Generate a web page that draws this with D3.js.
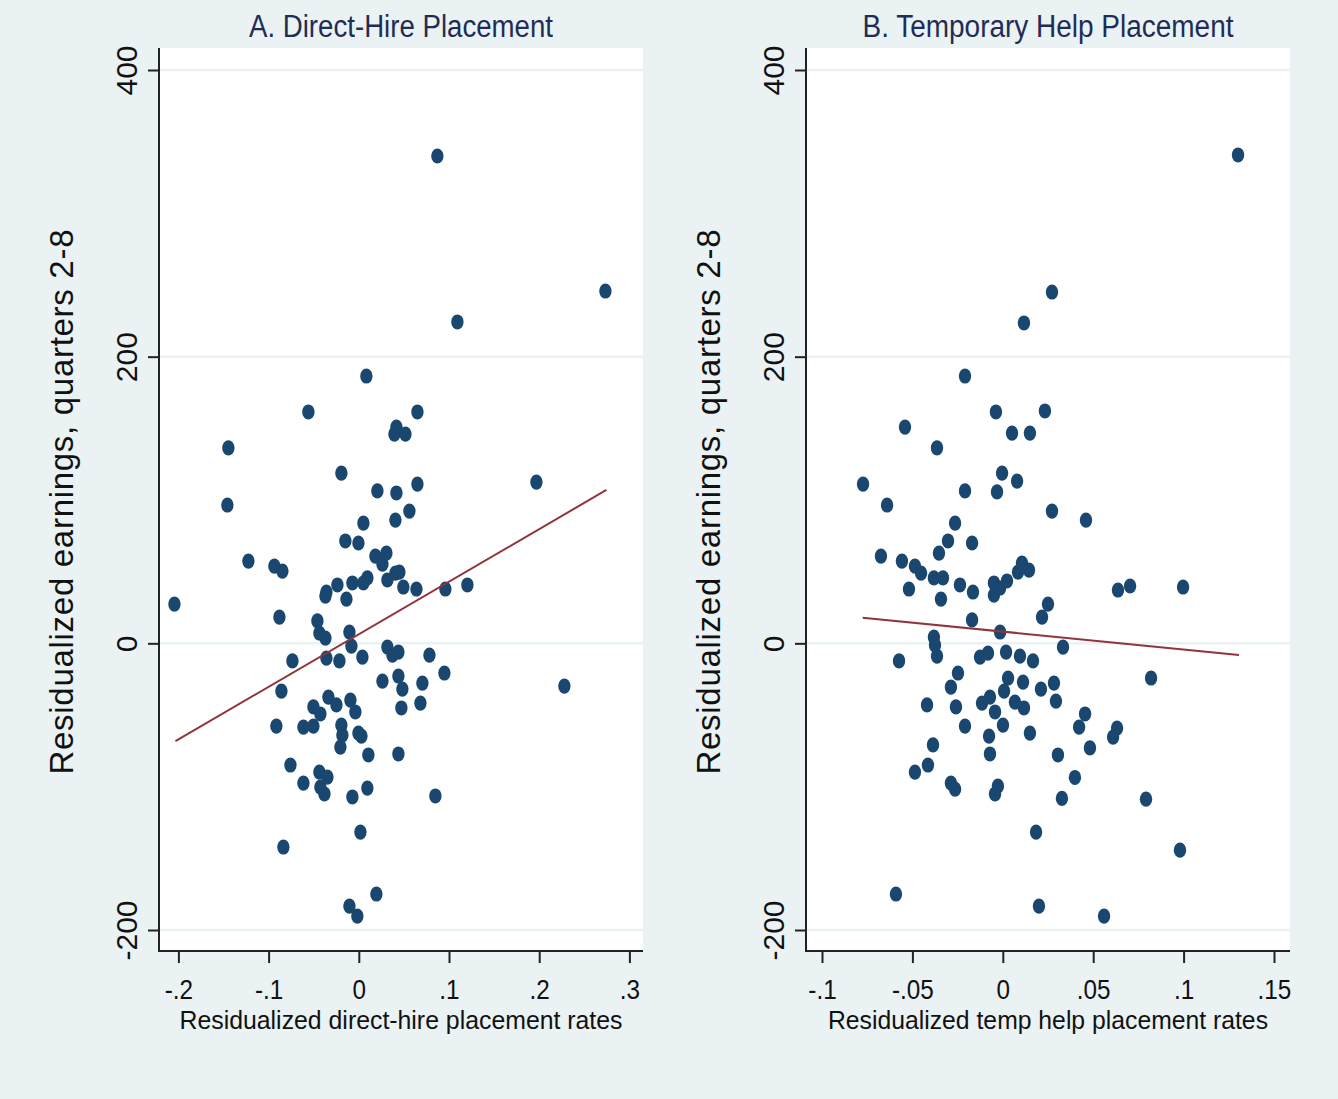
<!DOCTYPE html>
<html>
<head>
<meta charset="utf-8">
<script src="https://cdn.jsdelivr.net/npm/d3@7/dist/d3.min.js"></script>
<style>
  html, body { margin: 0; padding: 0; background: #eaf2f3; }
  svg { display: block; }
  text { font-family: "Liberation Sans", Arial, sans-serif; }
</style>
</head>
<body>
<div id="chart"></div>
<script>
// residualized earnings (y) vs residualized placement rates (x), one pair per point
var directHire = [
  [-0.0559,161.4],[0.0650,161.4],[0.0417,150.9],[0.0395,146.0],[0.0517,146.0],[-0.0193,118.8],
  [0.0084,186.5],[0.0206,106.3],[0.0417,104.9],[0.0650,111.1],[0.0561,92.3],[0.0406,86.0],
  [0.0051,83.9],[-0.0149,71.4],[-0.0004,70.0],[0.0184,60.9],[0.0306,63.0],[0.0262,55.3],
  [-0.1224,57.4],[-0.0936,53.9],[-0.0847,50.4],[0.0317,44.2],[0.0406,49.0],[0.0450,49.7],
  [0.0095,45.6],[0.0051,42.1],[-0.0071,42.1],[-0.0237,40.7],[-0.0359,35.8],[-0.0370,33.0],
  [-0.0137,30.9],[0.0494,39.3],[0.0639,37.9],[0.0960,37.9],[0.1204,40.7],[-0.0880,18.3],
  [-0.0459,15.6],[-0.0437,7.2],[-0.0370,3.7],[-0.0104,7.9],[-0.0082,-1.9],[0.0317,-2.6],
  [0.0439,-6.1],[0.0373,-8.2],[0.0783,-8.2],[-0.0736,-12.3],[-0.0359,-10.3],[-0.0215,-12.3],
  [0.0040,-9.6],[0.0949,-20.7],[0.0262,-26.3],[0.0439,-22.8],[0.0483,-31.9],[0.0705,-27.7],
  [0.0683,-41.7],[0.0472,-45.1],[-0.0858,-33.3],[-0.0337,-37.5],[-0.0248,-43.0],[-0.0093,-39.6],
  [-0.0038,-47.9],[-0.0503,-44.4],[-0.0426,-49.3],[-0.0914,-57.7],[-0.0614,-58.4],[-0.0503,-57.7],
  [-0.0193,-57.0],[-0.0182,-64.0],[-0.0204,-72.4],[-0.0004,-62.6],[0.0029,-64.7],[0.0106,-77.9],
  [0.0439,-77.2],[-0.0758,-84.9],[-0.0437,-89.8],[-0.0348,-93.3],[-0.0426,-100.3],[-0.0381,-105.1],
  [-0.0614,-97.5],[-0.0071,-107.2],[0.0095,-101.0],[0.0849,-106.5],[0.0018,-131.7],[-0.0836,-142.1],
  [0.0195,-174.9],[-0.0104,-183.3],[-0.0016,-190.3],[-0.1446,136.3],[-0.1457,96.5],[-0.2044,27.4],
  [0.0871,340.0],[0.2734,245.8],[0.1093,224.2],[0.1969,112.5],[0.2279,-29.8]
];

var tempHelp = [
  [-0.0209,186.5],[-0.0038,161.4],[0.0233,162.1],[0.0051,146.7],[0.0150,146.7],[-0.0541,150.9],
  [-0.0364,136.3],[-0.0773,111.1],[-0.0640,96.5],[-0.0209,106.3],[-0.0032,105.6],[-0.0004,118.8],
  [0.0079,113.2],[0.0272,92.3],[0.0460,86.0],[-0.0264,83.9],[-0.0303,71.4],[-0.0170,70.0],
  [-0.0353,63.0],[-0.0674,60.9],[-0.0558,57.4],[-0.0486,53.9],[-0.0452,49.0],[-0.0381,45.6],
  [-0.0331,45.6],[-0.0519,37.9],[-0.0342,30.9],[-0.0237,40.7],[-0.0165,35.8],[-0.0049,42.1],
  [-0.0049,33.7],[-0.0015,38.6],[0.0023,43.5],[0.0106,56.0],[0.0084,49.7],[0.0145,51.1],
  [0.0250,27.4],[0.0217,18.3],[-0.0170,16.3],[-0.0015,7.9],[-0.0381,4.4],[0.1301,340.7],
  [0.0272,245.1],[0.0117,223.5],[0.0637,37.2],[0.0704,40.0],[0.0997,39.3],[0.0820,-24.2],
  [0.0632,-59.1],[0.0610,-65.4],[0.0792,-108.7],[0.0980,-144.3],[-0.0375,-1.2],[-0.0364,-8.9],
  [-0.0574,-12.3],[-0.0126,-9.6],[-0.0082,-6.8],[0.0018,-6.1],[0.0095,-8.9],[0.0167,-12.3],
  [0.0333,-2.6],[-0.0248,-20.7],[-0.0287,-30.5],[0.0029,-24.2],[0.0112,-27.0],[0.0007,-33.3],
  [-0.0071,-37.5],[-0.0115,-41.7],[0.0067,-41.0],[0.0117,-45.1],[0.0211,-31.9],[0.0283,-27.7],
  [0.0294,-40.3],[-0.0419,-43.0],[-0.0259,-44.4],[-0.0043,-47.9],[-0.0209,-57.7],[0.0001,-57.0],
  [0.0150,-62.6],[-0.0076,-64.7],[0.0455,-49.3],[0.0422,-58.4],[-0.0386,-70.9],[-0.0071,-77.2],
  [0.0305,-77.9],[0.0482,-73.0],[-0.0414,-84.9],[-0.0486,-89.8],[-0.0287,-97.5],[-0.0264,-101.7],
  [-0.0027,-99.6],[-0.0043,-105.1],[0.0399,-93.6],[0.0327,-108.2],[0.0184,-131.7],[-0.0591,-174.9],
  [0.0200,-183.3],[0.0560,-190.3]
];

// fitted lines, end points
var fitDirectHire = [[-0.2033,-68.2],[0.2745,107.0]];
var fitTempHelp = [[-0.0775,17.9],[0.1306,-8.2]];

var yTicks = [-200, 0, 200, 400];
var yTickLabels = ["-200", "0", "200", "400"];
var xTicksA = [-0.2, -0.1, 0, 0.1, 0.2, 0.3];
var xTickLabelsA = ["-.2", "-.1", "0", ".1", ".2", ".3"];
var xTicksB = [-0.1, -0.05, 0, 0.05, 0.1, 0.15];
var xTickLabelsB = ["-.1", "-.05", "0", ".05", ".1", ".15"];

var titles = ["A. Direct-Hire Placement", "B. Temporary Help Placement"];
var xTitles = ["Residualized direct-hire placement rates", "Residualized temp help placement rates"];
var yTitle = "Residualized earnings, quarters 2-8";

var width = 1338,
    height = 1099;

var svg = d3.select("#chart").append("svg")
    .attr("width", width)
    .attr("height", height);

svg.append("rect")
    .attr("width", width)
    .attr("height", height)
    .attr("fill", "#eaf2f3");

var y = d3.scaleLinear().domain([-200, 400]).range([930, 70]);

function draw_panel(opts) {
  var g = svg.append("g");
  var x = d3.scaleLinear().domain(opts.domain).range(opts.range);
  var top = 48, bottom = 951;

  // plot region
  g.append("rect")
      .attr("x", opts.left)
      .attr("y", top)
      .attr("width", opts.right - opts.left)
      .attr("height", bottom - top)
      .attr("fill", "white");

  // gridlines
  g.selectAll(".grid").data(yTicks).enter().append("line")
      .attr("x1", opts.left)
      .attr("x2", opts.right)
      .attr("y1", function(d) { return y(d); })
      .attr("y2", function(d) { return y(d); })
      .attr("stroke", "#eaf2f3")
      .attr("stroke-width", 2.5);

  // points
  g.selectAll(".pt").data(opts.data).enter().append("ellipse")
      .attr("cx", function(d) { return x(d[0]); })
      .attr("cy", function(d) { return y(d[1]); })
      .attr("rx", 6.2)
      .attr("ry", 7.6)
      .attr("fill", "#1a476f");

  // fitted line
  g.append("path")
      .datum(opts.fit)
      .attr("d", d3.line().x(function(d) { return x(d[0]); }).y(function(d) { return y(d[1]); }))
      .attr("stroke", "#90353b")
      .attr("stroke-width", 2)
      .attr("fill", "none");

  // y axis
  var yAxis = d3.axisLeft(y)
      .tickValues(yTicks)
      .tickSize(11)
      .tickFormat(function(d, i) { return yTickLabels[i]; });
  var ya = g.append("g")
      .attr("transform", "translate(" + opts.left + ",0)")
      .call(yAxis);
  ya.select(".domain").attr("d", "M0," + top + "V" + bottom);
  ya.selectAll("path, line").attr("stroke", "#222").attr("stroke-width", 2);
  ya.selectAll("text")
      .attr("x", null).attr("dy", null)
      .attr("transform", "translate(-22,0) rotate(-90)")
      .attr("text-anchor", "middle")
      .attr("font-size", 30)
      .attr("fill", "#111")
      .style("font-family", "'Liberation Sans', Arial, sans-serif");

  // x axis
  var xAxis = d3.axisBottom(x)
      .tickValues(opts.xTicks)
      .tickSize(12)
      .tickFormat(function(d, i) { return opts.xLabels[i]; });
  var xa = g.append("g")
      .attr("transform", "translate(0," + bottom + ")")
      .call(xAxis);
  xa.select(".domain").attr("d", "M" + (opts.left - 1) + ",0H" + opts.right);
  xa.selectAll("path, line").attr("stroke", "#222").attr("stroke-width", 2);
  xa.selectAll("text")
      .attr("y", 48).attr("dy", null)
      .attr("font-size", 27)
      .attr("fill", "#111")
      .attr("transform", "scale(0.9,1)")
      .style("font-family", "'Liberation Sans', Arial, sans-serif");

  // titles
  var cx = (opts.left + opts.right) / 2;
  g.append("text")
      .attr("x", cx)
      .attr("y", 37)
      .attr("text-anchor", "middle")
      .attr("font-size", 31)
      .attr("fill", "#1f2d56")
      .attr("textLength", opts.titleLen)
      .attr("lengthAdjust", "spacingAndGlyphs")
      .text(opts.title);

  g.append("text")
      .attr("x", cx)
      .attr("y", 1029)
      .attr("text-anchor", "middle")
      .attr("font-size", 26)
      .attr("fill", "#111")
      .attr("textLength", opts.xTitleLen)
      .attr("lengthAdjust", "spacingAndGlyphs")
      .text(opts.xTitle);

  g.append("text")
      .attr("transform", "translate(" + (opts.left - 86) + ",502) rotate(-90)")
      .attr("text-anchor", "middle")
      .attr("font-size", 33)
      .attr("fill", "#111")
      .attr("textLength", 545)
      .attr("lengthAdjust", "spacing")
      .text(yTitle);
}

draw_panel({
  data: directHire, fit: fitDirectHire,
  domain: [-0.2, 0.3], range: [178.4, 629.4],
  left: 159, right: 643,
  xTicks: xTicksA, xLabels: xTickLabelsA,
  title: titles[0], titleLen: 304,
  xTitle: xTitles[0], xTitleLen: 443
});

draw_panel({
  data: tempHelp, fit: fitTempHelp,
  domain: [-0.1, 0.15], range: [822, 1274],
  left: 806, right: 1290,
  xTicks: xTicksB, xLabels: xTickLabelsB,
  title: titles[1], titleLen: 371,
  xTitle: xTitles[1], xTitleLen: 440
});
</script>
</body>
</html>
